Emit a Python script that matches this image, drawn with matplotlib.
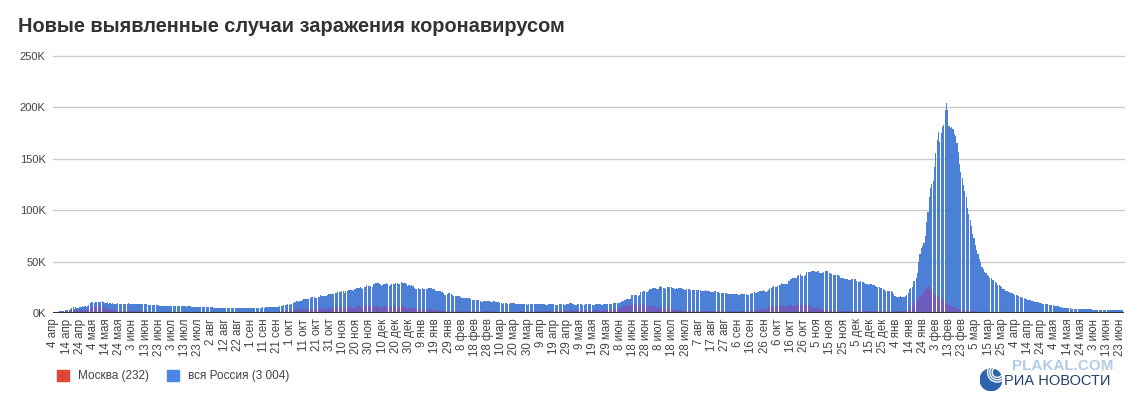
import numpy as np
import pandas as pd
import matplotlib
matplotlib.use("Agg")
from matplotlib import pyplot as plt
from matplotlib.patches import Patch, Circle

# daily new cases, thousands; first day 4 Apr 2020
russia_2020 = [
    0.6, 0.6, 1.0, 1.2, 1.2, 1.5, 1.8, 1.7, 2.2, 2.6, 2.8, 3.4, 3.4, 4.1, 4.8, 6.1, 4.3, 5.6, 5.2, 4.8, 5.8, 6.0, 6.4, 6.2, 6.4, 5.8, 7.1,
    7.9, 9.6, 10.6, 10.6, 10.1, 10.6, 11.2, 10.7, 10.8, 11.0, 11.7, 10.9, 10.0, 10.0, 10.6, 9.2, 9.7, 8.9, 9.3, 8.8, 8.8, 8.9, 9.4, 8.6, 8.9, 8.9, 8.3, 8.4, 8.6, 9.0, 9.3,
    9.0, 8.9, 8.5, 8.8, 8.7, 8.9, 9.0, 9.0, 8.6, 8.4, 8.8, 9.0, 8.7, 8.8, 8.2, 8.2, 7.8, 7.8, 8.0, 7.9, 7.7, 7.6, 7.4, 7.2, 7.1, 7.1, 6.8, 6.8, 6.7, 6.7,
    6.6, 6.8, 6.7, 6.6, 6.7, 6.6, 6.4, 6.5, 6.6, 6.6, 6.6, 6.6, 6.5, 6.2, 6.4, 6.4, 6.4, 6.2, 6.1, 6.1, 5.8, 5.9, 5.8, 5.8, 5.9, 5.8, 5.6, 5.4, 5.5, 5.5, 5.5,
    5.4, 5.4, 5.4, 5.2, 5.2, 5.2, 5.2, 5.2, 5.2, 5.1, 5.1, 5.1, 5.1, 5.1, 5.1, 5.1, 4.8, 4.7, 4.8, 4.8, 4.9, 4.9, 4.9, 4.7, 4.7, 4.7, 4.7, 4.8, 4.9, 4.9, 4.7,
    4.7, 4.7, 4.9, 5.0, 5.2, 5.2, 5.1, 5.1, 5.1, 5.4, 5.3, 5.4, 5.5, 5.4, 5.5, 5.7, 5.8, 6.1, 6.1, 6.2, 6.2, 6.2, 6.4, 6.6, 6.6, 7.5, 7.9, 8.1, 8.5, 8.2,
    8.5, 9.0, 9.4, 10.5, 10.9, 11.6, 11.1, 11.5, 12.1, 12.8, 13.6, 13.9, 13.9, 13.7, 13.8, 14.2, 15.2, 15.7, 15.1, 15.0, 15.0, 15.7, 16.0, 17.3, 16.7, 16.5, 16.2, 16.2, 17.7, 18.1, 18.3,
    18.7, 18.6, 18.3, 19.8, 19.4, 20.6, 20.5, 20.4, 21.8, 21.0, 19.9, 21.6, 21.9, 22.7, 22.6, 22.8, 22.4, 21.0, 23.6, 24.3, 24.8, 24.6, 25.2, 24.3, 23.7, 25.1, 25.2, 27.1, 26.3, 26.7,
    26.4, 25.3, 28.1, 28.1, 29.0, 28.8, 29.0, 28.0, 26.1, 26.9, 28.6, 28.6, 29.0, 28.1, 26.7, 26.9, 27.9, 28.2, 28.2, 28.9, 29.4, 28.0, 28.6, 29.9, 29.0, 29.0, 29.2, 27.8, 26.5, 27.0, 26.5,
]
russia_2021 = [
    27.0, 26.3, 24.2, 23.4, 23.7, 24.2, 23.5, 23.3, 24.2, 23.0, 22.9, 22.9, 23.5, 24.0, 24.8, 24.6, 23.7, 23.0, 21.9, 21.3, 21.1, 21.3, 21.1, 20.9, 19.3, 17.7, 17.9, 18.2, 19.0, 19.0, 18.4,
    17.6, 16.6, 16.6, 16.6, 16.7, 16.6, 16.0, 15.0, 14.9, 14.8, 14.9, 14.7, 14.4, 14.2, 13.4, 12.7, 12.8, 12.8, 12.9, 12.7, 12.6, 12.0, 11.0, 11.0, 11.7, 11.5, 11.5, 11.5,
    11.4, 11.0, 10.6, 11.4, 11.5, 11.0, 10.9, 10.6, 10.0, 9.4, 9.1, 9.4, 9.4, 9.3, 9.0, 8.9, 9.3, 9.5, 9.3, 9.3, 9.2, 9.2, 8.6, 8.9, 9.1, 9.1, 9.2, 8.8, 8.3, 8.0, 8.3,
    8.3, 8.3, 8.8, 8.6, 8.6, 8.3, 8.3, 8.3, 8.7, 8.8, 8.7, 8.7, 8.2, 8.1, 8.3, 8.7, 8.8, 8.7, 8.7, 8.1, 8.1, 8.0, 8.8, 8.8, 8.5, 8.9, 8.0, 8.2, 8.4, 8.3,
    9.3, 9.3, 9.1, 8.3, 7.8, 8.0, 8.3, 8.4, 8.4, 8.5, 7.8, 8.2, 8.3, 8.7, 8.9, 8.9, 8.6, 7.8, 8.2, 8.2, 8.6, 8.6, 8.8, 8.3, 8.0, 8.1, 8.5, 8.9, 9.0, 9.1, 9.0,
    8.6, 8.9, 9.4, 9.3, 9.5, 9.6, 9.9, 9.3, 10.4, 11.7, 11.7, 12.5, 13.5, 13.4, 13.3, 14.1, 17.3, 17.9, 17.6, 17.9, 17.4, 16.7, 17.6, 20.2, 20.4, 21.7, 21.7, 20.5, 20.6, 21.0,
    23.5, 23.2, 24.4, 24.4, 24.4, 23.4, 23.7, 25.1, 25.8, 25.1, 24.7, 24.2, 23.8, 25.3, 25.3, 25.0, 25.0, 24.2, 23.9, 23.8, 24.1, 23.8, 24.1, 24.3, 24.1, 23.1, 22.6, 22.7, 23.3, 23.3, 23.3,
    22.6, 22.1, 22.6, 22.6, 22.6, 22.8, 22.4, 22.1, 21.9, 21.6, 21.9, 22.0, 21.9, 21.6, 21.1, 20.9, 20.5, 20.8, 21.1, 21.0, 20.8, 20.1, 19.2, 19.7, 19.6, 19.7, 19.6, 19.5, 18.9, 18.3, 18.6,
    18.8, 18.9, 18.8, 18.9, 18.6, 17.9, 17.8, 18.3, 18.3, 18.3, 18.8, 18.2, 17.8, 17.9, 18.4, 19.6, 19.9, 20.2, 19.7, 19.6, 20.2, 21.4, 21.4, 21.6, 22.1, 21.6, 20.6, 21.4, 22.4, 23.9,
    24.5, 25.0, 25.8, 25.1, 25.1, 26.0, 27.0, 27.6, 29.4, 28.6, 28.2, 28.2, 28.7, 31.3, 31.3, 33.2, 34.0, 33.7, 34.1, 34.1, 36.3, 37.1, 37.7, 35.7, 35.7, 36.4, 36.6, 40.1, 39.8, 40.3, 40.3,
    40.4, 40.9, 40.4, 40.2, 40.7, 41.3, 39.2, 39.4, 39.2, 40.1, 40.8, 40.8, 40.7, 39.3, 38.8, 38.4, 37.2, 37.1, 37.4, 37.1, 37.1, 35.7, 34.3, 34.0, 33.9, 33.5, 33.4, 32.9, 32.1, 32.6,
    32.9, 33.0, 32.8, 32.9, 31.3, 30.1, 30.2, 30.8, 30.4, 29.9, 29.6, 28.7, 27.9, 27.4, 28.0, 27.9, 27.3, 26.8, 26.1, 25.4, 25.0, 25.1, 24.7, 24.3, 23.5, 22.6, 21.9, 21.7, 21.8, 21.1, 21.2,
]
russia_2022 = [
    20.6, 18.6, 16.1, 15.6, 15.4, 15.4, 16.1, 15.8, 15.6, 15.8, 16.2, 17.5, 19.3, 23.8, 23.9, 25.1, 30.7, 31.3, 33.9, 38.9, 49.5, 57.2, 63.2, 65.1, 67.8, 74.7, 88.8, 98.0, 113.1, 121.2, 125.8,
    128.0, 141.9, 155.7, 168.2, 176.0, 166.6, 175.0, 180.5, 183.1, 197.1, 203.9, 197.1, 182.0, 179.7, 180.5, 179.1, 174.3, 172.0, 165.0, 157.1, 145.0, 137.0, 131.0, 124.3, 118.9, 113.3, 102.0, 96.5,
    90.5, 85.1, 77.3, 72.9, 66.2, 61.7, 57.6, 52.4, 49.3, 45.1, 43.0, 40.1, 38.9, 36.7, 35.9, 34.1, 33.8, 32.2, 31.9, 30.2, 29.4, 27.7, 27.3, 25.8, 24.9, 23.7, 23.2, 21.8, 21.7, 20.8, 20.6,
    19.6, 19.3, 18.4, 17.9, 17.1, 17.2, 16.2, 15.9, 15.6, 14.8, 14.5, 13.7, 13.8, 13.0, 12.7, 12.4, 11.8, 11.7, 11.2, 11.0, 10.5, 10.4, 9.9, 9.7, 9.2, 9.2, 8.8, 8.7, 8.3, 8.2,
    7.9, 7.6, 7.4, 7.2, 7.0, 6.7, 6.4, 6.0, 5.6, 5.3, 5.1, 5.0, 4.9, 4.8, 4.7, 4.5, 4.3, 4.3, 4.2, 4.1, 4.0, 3.9, 3.8, 3.8, 3.7, 3.7, 3.6, 3.6, 3.5, 3.5, 3.5,
    3.5, 3.4, 3.4, 3.4, 3.3, 3.3, 3.3, 3.3, 3.2, 3.2, 3.2, 3.2, 3.1, 3.1, 3.1, 3.1, 3.1, 3.0, 3.0, 3.0, 3.0, 3.0, 3.0, 3.0, 3.004,
]

moscow_2020 = [
    0.5, 0.4, 0.7, 0.7, 0.8, 1.1, 1.1, 1.1, 1.4, 1.5, 1.4, 1.5, 1.4, 1.6, 3.6, 3.6, 2.6, 3.1, 2.8, 2.6, 3.1, 2.9, 3.4, 3.0, 3.1, 2.2, 3.7,
    4.0, 5.4, 6.0, 5.9, 5.8, 5.9, 6.7, 5.8, 5.7, 5.4, 6.2, 5.0, 4.7, 4.7, 4.8, 3.5, 3.5, 3.2, 3.3, 2.7, 2.6, 2.6, 2.9, 2.1, 2.1, 2.0, 1.9, 1.9, 2.1, 2.3, 2.6,
    2.3, 2.0, 1.7, 2.0, 2.1, 2.2, 2.0, 1.6, 1.6, 1.5, 1.4, 1.6, 1.5, 1.5, 1.2, 1.2, 1.1, 1.1, 1.1, 1.1, 1.0, 1.0, 0.9, 0.9, 0.8, 0.8, 0.8, 0.8, 0.7, 0.7,
    0.6, 0.8, 0.8, 0.8, 0.8, 0.7, 0.6, 0.6, 0.7, 0.7, 0.7, 0.7, 0.6, 0.6, 0.6, 0.7, 0.7, 0.7, 0.6, 0.6, 0.6, 0.6, 0.6, 0.6, 0.6, 0.6, 0.6, 0.6, 0.6, 0.6, 0.7,
    0.7, 0.7, 0.7, 0.7, 0.7, 0.7, 0.7, 0.7, 0.7, 0.7, 0.7, 0.7, 0.7, 0.7, 0.7, 0.7, 0.7, 0.7, 0.7, 0.7, 0.7, 0.7, 0.7, 0.6, 0.6, 0.6, 0.6, 0.6, 0.7, 0.7, 0.7,
    0.7, 0.7, 0.7, 0.7, 0.7, 0.7, 0.7, 0.7, 0.7, 0.8, 0.8, 0.8, 0.8, 0.8, 0.8, 0.9, 0.9, 1.0, 1.1, 1.2, 1.3, 1.3, 1.5, 1.6, 1.8, 2.0, 2.2, 2.3, 2.6, 2.4,
    2.4, 2.7, 2.9, 3.5, 3.8, 4.0, 3.2, 3.2, 4.0, 4.4, 4.6, 4.3, 4.3, 4.1, 4.1, 4.0, 4.6, 5.2, 4.6, 4.2, 3.9, 4.1, 4.4, 5.3, 5.2, 4.4, 4.2, 4.3, 4.9, 5.2, 5.3,
    5.3, 5.1, 4.3, 5.5, 5.5, 5.9, 6.0, 5.9, 6.4, 5.8, 5.0, 5.5, 6.0, 6.1, 5.9, 5.8, 5.3, 4.4, 5.0, 6.4, 7.2, 6.9, 6.5, 5.3, 5.0, 6.4, 6.9, 7.9, 7.9, 6.8,
    5.8, 5.0, 6.1, 7.2, 7.0, 7.5, 6.8, 5.8, 4.9, 6.1, 6.8, 6.7, 6.4, 5.5, 5.2, 5.9, 6.4, 7.3, 6.8, 6.3, 5.2, 4.8, 6.4, 7.8, 7.0, 6.6, 5.9, 4.8, 4.8, 5.2, 5.0,
]
moscow_2021 = [
    5.1, 5.2, 4.5, 3.7, 3.6, 3.9, 3.4, 3.4, 4.4, 3.5, 3.2, 3.3, 3.5, 3.7, 4.2, 4.0, 3.4, 2.9, 2.8, 2.6, 2.7, 2.8, 2.8, 2.4, 2.0, 1.9, 1.9, 2.0, 2.1, 2.1, 1.9,
    1.6, 1.7, 1.7, 1.8, 1.8, 1.8, 1.6, 1.4, 1.5, 1.5, 1.6, 1.6, 1.7, 1.5, 1.5, 1.4, 1.4, 1.5, 1.6, 1.6, 1.5, 1.4, 1.4, 1.3, 1.5, 1.6, 1.7, 1.6,
    1.4, 1.3, 1.3, 1.4, 1.5, 1.5, 1.4, 1.3, 1.2, 1.3, 1.2, 1.4, 1.4, 1.3, 1.2, 1.1, 1.3, 1.4, 1.4, 1.4, 1.3, 1.2, 1.3, 1.5, 1.5, 1.6, 1.6, 1.6, 1.4, 1.4, 1.6,
    1.6, 1.7, 1.7, 1.8, 1.5, 1.4, 1.6, 1.8, 2.0, 2.1, 2.0, 1.8, 1.5, 1.6, 1.9, 2.2, 2.2, 2.0, 1.8, 1.5, 1.6, 2.0, 2.1, 2.0, 1.9, 1.6, 1.5, 2.0, 2.3, 2.4,
    2.7, 2.7, 2.5, 2.0, 1.9, 2.4, 2.6, 2.8, 2.8, 2.7, 2.1, 2.3, 2.6, 2.8, 3.0, 3.1, 2.7, 2.3, 2.7, 2.9, 3.1, 3.0, 2.8, 2.3, 2.3, 2.6, 3.0, 3.2, 3.4, 3.7, 3.3,
    2.7, 2.9, 3.4, 3.5, 3.7, 3.9, 4.0, 3.6, 4.7, 5.8, 6.7, 7.1, 7.7, 7.2, 6.6, 7.3, 9.1, 9.1, 8.6, 8.9, 7.6, 5.8, 7.3, 9.1, 8.9, 8.0, 7.6, 6.5, 5.7, 5.8,
    7.6, 7.0, 7.3, 6.5, 5.3, 5.0, 5.0, 5.3, 6.0, 5.5, 4.5, 4.3, 4.0, 4.5, 4.9, 4.5, 4.0, 3.6, 3.2, 3.0, 3.2, 3.2, 3.0, 2.9, 2.6, 2.3, 2.2, 2.3, 2.4, 2.4, 2.5,
    2.2, 1.9, 1.8, 1.9, 1.9, 2.1, 2.1, 1.9, 1.7, 1.8, 1.9, 2.0, 2.1, 1.9, 1.7, 1.6, 1.7, 1.9, 2.0, 2.0, 1.8, 1.7, 1.6, 1.6, 1.8, 1.7, 1.5, 1.4, 1.4, 1.4, 1.5,
    1.6, 1.6, 1.6, 1.6, 1.4, 1.3, 1.4, 1.7, 1.7, 1.8, 1.9, 1.7, 1.6, 1.8, 2.3, 2.5, 2.6, 2.5, 2.4, 2.3, 3.0, 3.6, 3.9, 4.3, 4.1, 3.8, 3.9, 4.8, 5.6, 6.2,
    6.8, 7.0, 7.0, 6.5, 5.9, 6.4, 7.4, 7.5, 7.3, 6.7, 5.9, 6.2, 6.9, 8.1, 7.9, 7.6, 7.0, 6.6, 6.6, 7.6, 8.5, 8.4, 8.4, 8.1, 6.9, 6.9, 8.8, 8.2, 8.0, 7.5, 6.1,
    5.6, 5.2, 5.0, 4.9, 5.2, 4.3, 3.7, 3.7, 3.3, 3.5, 4.4, 3.9, 3.3, 3.0, 2.8, 2.9, 2.8, 2.8, 2.6, 2.4, 2.2, 2.2, 2.2, 2.3, 2.1, 2.0, 1.9, 1.9, 2.1, 2.0,
    2.1, 2.1, 2.0, 2.0, 1.9, 1.9, 2.0, 2.0, 1.9, 1.9, 1.9, 1.8, 1.7, 1.8, 1.8, 1.8, 1.7, 1.7, 1.7, 1.6, 1.6, 1.6, 1.6, 1.6, 1.6, 1.5, 1.5, 1.6, 1.7, 1.9, 2.1,
]
moscow_2022 = [
    2.0, 1.6, 1.3, 1.5, 1.5, 1.7, 1.9, 1.8, 1.8, 2.0, 2.3, 2.9, 3.9, 5.4, 6.1, 6.6, 9.4, 10.4, 10.7, 12.2, 13.7, 16.5, 17.1, 18.5, 21.0, 22.3, 24.8, 26.3, 25.0, 22.8, 23.3,
    20.9, 18.8, 17.5, 16.4, 15.5, 14.9, 14.0, 13.6, 12.6, 11.3, 10.2, 9.1, 8.1, 7.3, 6.7, 5.8, 5.4, 4.7, 4.2, 3.9, 3.5, 3.2, 3.0, 2.7, 2.5, 2.3, 2.1, 1.9,
    1.9, 1.8, 1.7, 1.6, 1.5, 1.4, 1.4, 1.3, 1.3, 1.2, 1.2, 1.2, 1.1, 1.1, 1.1, 1.1, 1.0, 1.0, 1.0, 1.0, 1.0, 0.9, 0.9, 0.9, 0.9, 0.9, 0.8, 0.8, 0.8, 0.8, 0.8,
    0.8, 0.8, 0.7, 0.7, 0.7, 0.7, 0.7, 0.7, 0.7, 0.6, 0.6, 0.6, 0.6, 0.6, 0.6, 0.6, 0.5, 0.5, 0.5, 0.5, 0.5, 0.5, 0.5, 0.5, 0.4, 0.4, 0.4, 0.4, 0.4, 0.4,
    0.4, 0.4, 0.4, 0.4, 0.4, 0.4, 0.4, 0.3, 0.3, 0.3, 0.3, 0.3, 0.3, 0.3, 0.3, 0.3, 0.3, 0.3, 0.3, 0.3, 0.3, 0.3, 0.3, 0.3, 0.3, 0.3, 0.3, 0.3, 0.3, 0.3, 0.3,
    0.3, 0.3, 0.3, 0.3, 0.3, 0.3, 0.2, 0.3, 0.3, 0.2, 0.2, 0.2, 0.2, 0.3, 0.2, 0.2, 0.2, 0.2, 0.2, 0.2, 0.2, 0.2, 0.2, 0.2, 0.232,
]

assert len(russia_2020) == 272 and len(moscow_2020) == 272, (len(russia_2020), len(moscow_2020))
assert len(russia_2021) == 365 and len(moscow_2021) == 365, (len(russia_2021), len(moscow_2021))
assert len(russia_2022) == 176 and len(moscow_2022) == 176, (len(russia_2022), len(moscow_2022))

months_ru = ['янв', 'фев', 'мар', 'апр', 'мая', 'июн', 'июл', 'авг', 'сен', 'окт', 'ноя', 'дек']
series_names = ['Москва (232)', 'вся Россия (3 004)']

russia = np.array(russia_2020 + russia_2021 + russia_2022) * 1000
moscow = np.array(moscow_2020 + moscow_2021 + moscow_2022) * 1000
dates = pd.date_range('2020-04-04', periods=len(russia), freq='D')
x = np.arange(len(russia))

plt.rcParams['font.family'] = ['Liberation Sans', 'DejaVu Sans']

fig = plt.figure(figsize=(11.43, 4.04), dpi=100)
ax = fig.add_axes([0.0461, 0.2252, 0.9369, 0.6362])

for v in range(50000, 250001, 50000):
    ax.axhline(v, color='#cccccc', lw=1, zorder=0, clip_on=False)

ax.bar(x, russia, width=0.88, color='#4b80d6', linewidth=0, zorder=2)
ax.bar(x, moscow, width=0.88, color='#6f5cbd', linewidth=0, zorder=3)
ax.axhline(0, color='#333333', lw=1.5, zorder=4)

ax.set_xlim(-0.5, len(x) - 0.5)
ax.set_ylim(0, 250000)
for s in ax.spines.values():
    s.set_visible(False)

ax.set_yticks(range(0, 250001, 50000))
ax.set_yticklabels([f'{v // 1000}K' for v in range(0, 250001, 50000)])
ax.tick_params(axis='y', length=0, pad=5, labelsize=8, labelcolor='#444444')

tick_idx = x[::10]
ax.set_xticks(tick_idx)
ax.set_xticklabels([f'{dates[i].day} {months_ru[dates[i].month - 1]}' for i in tick_idx],
                   rotation=90, va='top', ha='center')
ax.tick_params(axis='x', length=0, pad=4, labelsize=8.3, labelcolor='#444444')

fig.text(0.0157, 0.935, 'Новые выявленные случаи заражения коронавирусом',
         fontsize=14.4, fontweight='bold', color='#333333', va='center', ha='left')

handles = [Patch(color='#e0453b'), Patch(color='#4a86e8')]
fig.legend(handles, series_names, loc='center left', bbox_to_anchor=(0.041, 0.069),
           frameon=False, ncol=2, fontsize=8.5, labelcolor='#444444',
           handlelength=1.0, handleheight=1.0, handletextpad=0.7, columnspacing=1.6)

# RIA logo, drawn roughly
fig.text(0.885, 0.093, 'PLAKAL.COM', fontsize=11, fontweight='bold', color='#b3cbe6',
         va='center', ha='left', zorder=1)
fig.text(0.878, 0.058, 'РИА НОВОСТИ', fontsize=10.5, color='#23426f',
         va='center', ha='left', zorder=2)
lax = fig.add_axes([0.857, 0.03, 0.02, 0.06])
lax.set_xlim(-1, 1)
lax.set_ylim(-1, 1)
lax.set_aspect('equal')
lax.axis('off')
lax.add_patch(Circle((0, 0), 0.95, color='#2f63ad'))
for r in (0.45, 0.65, 0.85):
    lax.add_patch(Circle((0.55, 0.65), r, fill=False, ec='white', lw=1))

fig.savefig('out.png', dpi=100)
